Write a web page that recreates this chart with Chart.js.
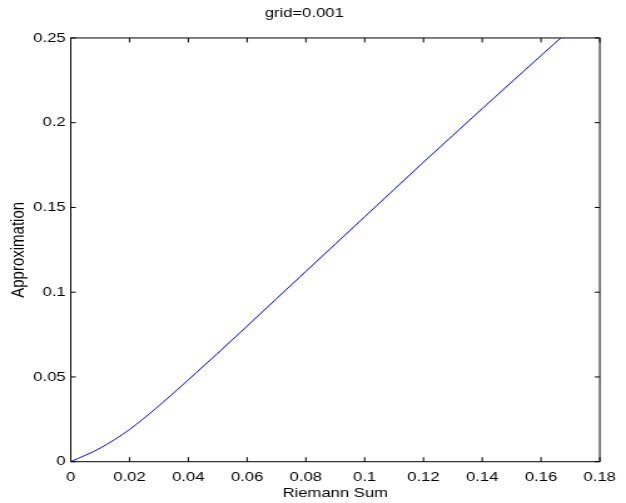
<!DOCTYPE html>
<html>
<head>
<meta charset="utf-8">
<script src="https://cdn.jsdelivr.net/npm/chart.js@4/dist/chart.umd.min.js"></script>
<style>
  html, body { margin: 0; padding: 0; background: #fff; overflow: hidden; }
  /* the reference figure is stretched horizontally, so draw at 500px and widen */
  #wrap { width: 500px; height: 503px; transform: scaleX(1.252); transform-origin: 0 0; }
</style>
</head>
<body>
<div id="wrap"><canvas id="chart" width="500" height="503"></canvas></div>
<script>
// Riemann sum approximation curve
const sumValues = [0, 0.01, 0.02, 0.03, 0.04, 0.05, 0.06, 0.07, 0.08,
                   0.09, 0.10, 0.11, 0.12, 0.13, 0.14, 0.15, 0.16, 0.1667];
const approxValues = [0, 0.0080, 0.0190, 0.0330, 0.0483, 0.0640, 0.0800, 0.0962, 0.1123,
                      0.1284, 0.1445, 0.1606, 0.1767, 0.1925, 0.2083, 0.2240, 0.2396, 0.25];

const xTicks = [0, 0.02, 0.04, 0.06, 0.08, 0.1, 0.12, 0.14, 0.16, 0.18];
const xTickLabels = ['0', '0.02', '0.04', '0.06', '0.08', '0.1', '0.12', '0.14', '0.16', '0.18'];
const yTicks = [0, 0.05, 0.1, 0.15, 0.2, 0.25];
const yTickLabels = ['0', '0.05', '0.1', '0.15', '0.2', '0.25'];

const FONT = { family: '"Liberation Sans", Arial, Helvetica, sans-serif', size: 13.3 };

// box around the axes with inward tick marks, matlab style
const axesFrame = {
    id: 'axesFrame',
    afterDatasetsDraw(chart) {
        const { ctx, chartArea: a, scales: { x, y } } = chart;
        ctx.save();
        ctx.strokeStyle = '#000';
        ctx.lineWidth = 1;
        ctx.beginPath();
        xTicks.forEach(v => {
            const px = x.getPixelForValue(v);
            ctx.moveTo(px, a.bottom); ctx.lineTo(px, a.bottom - 4.5);
            ctx.moveTo(px, a.top); ctx.lineTo(px, a.top + 4.5);
        });
        yTicks.forEach(v => {
            const py = y.getPixelForValue(v);
            ctx.moveTo(a.left, py); ctx.lineTo(a.left + 4, py);
            ctx.moveTo(a.right, py); ctx.lineTo(a.right - 4, py);
        });
        ctx.stroke();
        ctx.strokeRect(a.left, a.top, a.right - a.left, a.bottom - a.top);
        ctx.restore();
    }
};

const points = sumValues.map((v, i) => ({ x: v, y: approxValues[i] }));

new Chart(document.getElementById('chart'), {
    type: 'line',
    data: {
        datasets: [{
            data: points,
            borderColor: '#0000ff',
            borderWidth: 1,
            pointRadius: 0,
            cubicInterpolationMode: 'monotone',
            fill: false
        }]
    },
    options: {
        responsive: false,
        animation: false,
        devicePixelRatio: 1,
        layout: { padding: { left: 0, right: 14, top: 0, bottom: 0 } },
        plugins: {
            legend: { display: false },
            tooltip: { enabled: false },
            title: {
                display: true,
                text: 'grid=0.001',
                color: '#000',
                font: { ...FONT, weight: 'normal' },
                padding: { top: 5, bottom: 17 }
            }
        },
        scales: {
            x: {
                type: 'linear',
                min: 0,
                max: 0.18,
                afterBuildTicks: s => { s.ticks = xTicks.map(v => ({ value: v })); },
                afterFit: s => { s.height = 41.3; },
                grid: { display: false, drawTicks: false },
                border: { display: false },
                ticks: {
                    color: '#000',
                    font: FONT,
                    padding: 8,
                    maxRotation: 0,
                    autoSkip: false,
                    callback: (v, i) => xTickLabels[i]
                },
                title: {
                    display: true,
                    text: 'Riemann Sum',
                    color: '#000',
                    font: FONT,
                    padding: { top: 0, bottom: 2 }
                }
            },
            y: {
                type: 'linear',
                min: 0,
                max: 0.25,
                afterBuildTicks: s => { s.ticks = yTicks.map(v => ({ value: v })); },
                afterFit: s => { s.width = 56.5; },
                grid: { display: false, drawTicks: false },
                border: { display: false },
                ticks: {
                    color: '#000',
                    font: FONT,
                    padding: 4,
                    autoSkip: false,
                    callback: (v, i) => yTickLabels[i]
                },
                title: {
                    display: true,
                    text: 'Approximation',
                    color: '#000',
                    font: { ...FONT, size: 15 },
                    padding: { top: 6, bottom: 0 }
                }
            }
        }
    },
    plugins: [axesFrame]
});
</script>
</body>
</html>
